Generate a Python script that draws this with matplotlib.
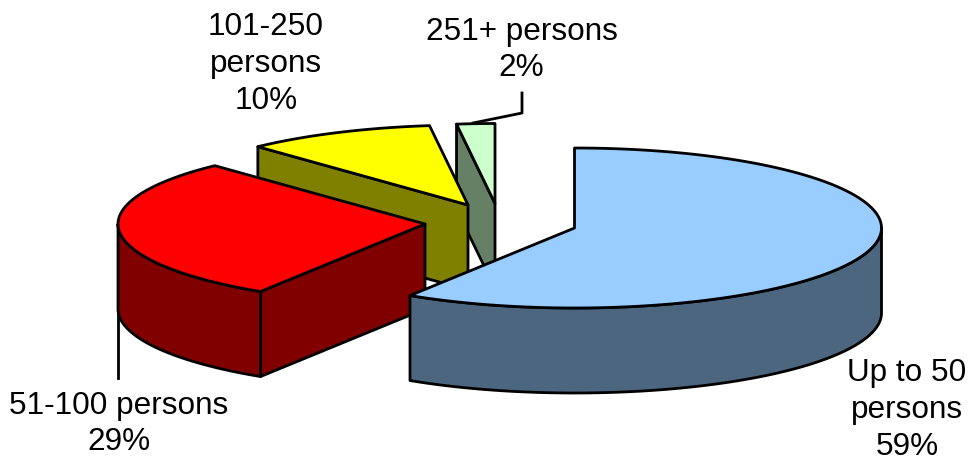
import numpy as np
import matplotlib
matplotlib.use("Agg")
import matplotlib.pyplot as plt
from matplotlib.patches import Polygon

plt.rcParams['font.family'] = ['Liberation Sans', 'DejaVu Sans']

labels = ["Up to 50\npersons\n59%", "51-100 persons\n29%", "101-250\npersons\n10%", "251+ persons\n2%"]
shares = [59, 29, 10, 2]
top_colors = ['#99ccff', '#ff0000', '#ffff00', '#ccffcc']
side_colors = ['#4d6680', '#800000', '#808000', '#668066']

# exploded centre of each slice, in pixels
centers = [(574.5, 228), (425, 224), (468, 205), (495, 203.5)]
rx, ry, depth = 307, 80, 85
lw = 2.0

fig = plt.figure(figsize=(9.72, 4.61), dpi=100)
ax = fig.add_axes([0, 0, 1, 1])
ax.set_xlim(0, 972)
ax.set_ylim(461, 0)
ax.axis('off')

# clockwise from 12 o'clock
edges = np.cumsum([0] + shares) / sum(shares) * 2 * np.pi


def rim(c, a, b, n=120):
    t = np.linspace(a, b, n)
    return np.column_stack([c[0] + rx * np.sin(t), c[1] - ry * np.cos(t)])


def shape(pts, color, z):
    ax.add_patch(Polygon(pts, closed=True, facecolor=color, edgecolor='black',
                         linewidth=lw, joinstyle='round', zorder=z))


# back slices first so the front ones cover them
for i in [3, 2, 1, 0]:
    c = centers[i]
    a, b = edges[i], edges[i + 1]
    z = 10 + (3 - i) * 3
    arc = rim(c, a, b)

    # cut face at the start of the slice, seen only when it looks to the front
    if i != 0:
        face = np.array([c, arc[0], arc[0] + [0, depth], [c[0], c[1] + depth]])
        shape(face, side_colors[i], z)

    # outer wall, only the part on the front half of the ellipse
    lo, hi = max(a, np.pi / 2), min(b, 1.5 * np.pi)
    if lo < hi:
        wall = rim(c, lo, hi)
        shape(np.vstack([wall, (wall + [0, depth])[::-1]]), side_colors[i], z + 1)

    shape(np.vstack([[c], arc]), top_colors[i], z + 2)

# leader lines
ax.plot([522, 522, 473], [93, 113, 123], color='black', lw=lw, zorder=30)
ax.plot([118, 118], [300, 378], color='black', lw=lw, zorder=5)

fs = 22.7
text_pos = [(907, 410), (118.5, 424), (266, 64), (521.5, 50)]
for lab, (x, y) in zip(labels, text_pos):
    ax.text(x, y, lab, ha='center', va='center', fontsize=fs, color='black',
            linespacing=1.3, zorder=40)

fig.savefig('out.png', dpi=100)
